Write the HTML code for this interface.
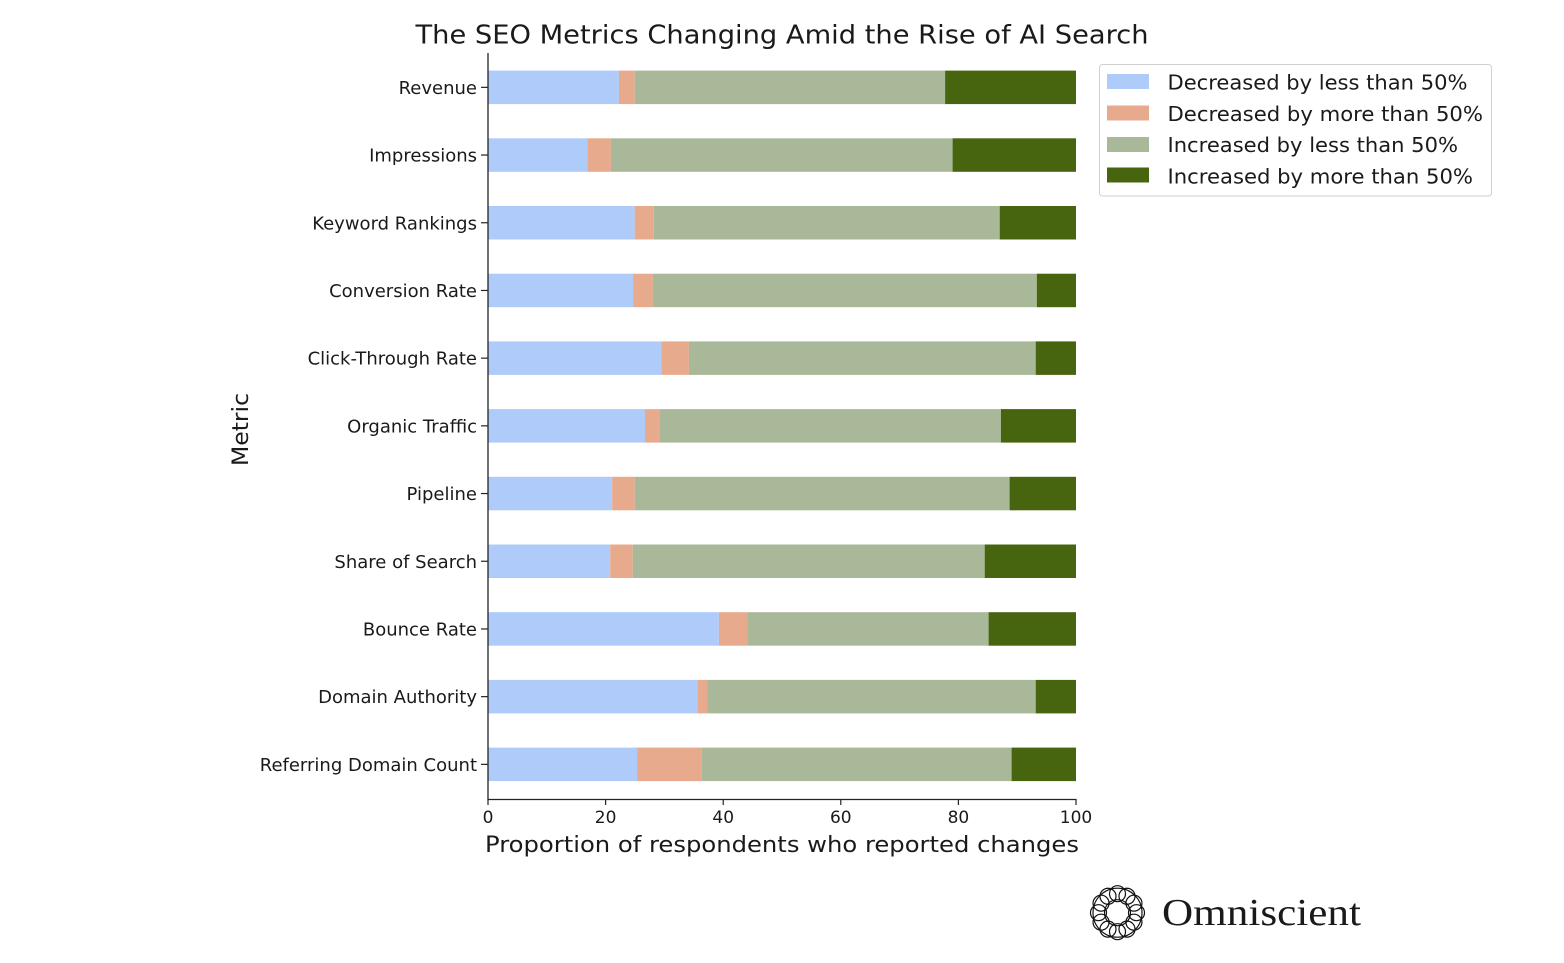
<!DOCTYPE html>
<html>
<head>
<meta charset="utf-8">
<style>
  html, body { margin: 0; padding: 0; background: #ffffff; }
  svg { display: block; }
  text { font-family: "DejaVu Sans", "Liberation Sans", sans-serif; fill: #1a1a1a; }
</style>
</head>
<body>
<svg width="1564" height="963" viewBox="0 0 1564 963" xmlns="http://www.w3.org/2000/svg">
  <rect x="0" y="0" width="1564" height="963" fill="#ffffff"/>

  <!-- Title -->
  <text x="782" y="43.5" font-size="25.5" text-anchor="middle" textLength="733" lengthAdjust="spacingAndGlyphs">The SEO Metrics Changing Amid the Rise of AI Search</text>

  <!-- Bars -->
  <g id="bars">
    <!-- Revenue -->
    <g transform="translate(0,87.35)">
      <rect x="488" y="-16.75" width="130.9" height="33.5" fill="#aecbfa"/>
      <rect x="618.9" y="-16.75" width="15.8" height="33.5" fill="#e8aa8c"/>
      <rect x="634.7" y="-16.75" width="310.4" height="33.5" fill="#a9b898"/>
      <rect x="945.1" y="-16.75" width="130.9" height="33.5" fill="#47640f"/>
      <line x1="481" y1="0" x2="488" y2="0" stroke="#222" stroke-width="1.2"/>
      <text x="477" y="6.5" font-size="18" text-anchor="end">Revenue</text>
    </g>
    <!-- Impressions -->
    <g transform="translate(0,155.05)">
      <rect x="488" y="-16.75" width="99.3" height="33.5" fill="#aecbfa"/>
      <rect x="587.3" y="-16.75" width="23.6" height="33.5" fill="#e8aa8c"/>
      <rect x="610.9" y="-16.75" width="341.7" height="33.5" fill="#a9b898"/>
      <rect x="952.6" y="-16.75" width="123.4" height="33.5" fill="#47640f"/>
      <line x1="481" y1="0" x2="488" y2="0" stroke="#222" stroke-width="1.2"/>
      <text x="477" y="6.5" font-size="18" text-anchor="end">Impressions</text>
    </g>
    <!-- Keyword Rankings -->
    <g transform="translate(0,222.75)">
      <rect x="488" y="-16.75" width="146.7" height="33.5" fill="#aecbfa"/>
      <rect x="634.7" y="-16.75" width="19" height="33.5" fill="#e8aa8c"/>
      <rect x="653.7" y="-16.75" width="346" height="33.5" fill="#a9b898"/>
      <rect x="999.7" y="-16.75" width="76.3" height="33.5" fill="#47640f"/>
      <line x1="481" y1="0" x2="488" y2="0" stroke="#222" stroke-width="1.2"/>
      <text x="477" y="6.5" font-size="18" text-anchor="end">Keyword Rankings</text>
    </g>
    <!-- Conversion Rate -->
    <g transform="translate(0,290.45)">
      <rect x="488" y="-16.75" width="145.1" height="33.5" fill="#aecbfa"/>
      <rect x="633.1" y="-16.75" width="19.8" height="33.5" fill="#e8aa8c"/>
      <rect x="652.9" y="-16.75" width="383.9" height="33.5" fill="#a9b898"/>
      <rect x="1036.8" y="-16.75" width="39.2" height="33.5" fill="#47640f"/>
      <line x1="481" y1="0" x2="488" y2="0" stroke="#222" stroke-width="1.2"/>
      <text x="477" y="6.5" font-size="18" text-anchor="end">Conversion Rate</text>
    </g>
    <!-- Click-Through Rate -->
    <g transform="translate(0,358.15)">
      <rect x="488" y="-16.75" width="173.2" height="33.5" fill="#aecbfa"/>
      <rect x="661.2" y="-16.75" width="27.7" height="33.5" fill="#e8aa8c"/>
      <rect x="688.9" y="-16.75" width="346.8" height="33.5" fill="#a9b898"/>
      <rect x="1035.7" y="-16.75" width="40.3" height="33.5" fill="#47640f"/>
      <line x1="481" y1="0" x2="488" y2="0" stroke="#222" stroke-width="1.2"/>
      <text x="477" y="6.5" font-size="18" text-anchor="end">Click-Through Rate</text>
    </g>
    <!-- Organic Traffic -->
    <g transform="translate(0,425.85)">
      <rect x="488" y="-16.75" width="157" height="33.5" fill="#aecbfa"/>
      <rect x="645" y="-16.75" width="14.2" height="33.5" fill="#e8aa8c"/>
      <rect x="659.2" y="-16.75" width="341.7" height="33.5" fill="#a9b898"/>
      <rect x="1000.9" y="-16.75" width="75.1" height="33.5" fill="#47640f"/>
      <line x1="481" y1="0" x2="488" y2="0" stroke="#222" stroke-width="1.2"/>
      <text x="477" y="6.5" font-size="18" text-anchor="end">Organic Traffic</text>
    </g>
    <!-- Pipeline -->
    <g transform="translate(0,493.55)">
      <rect x="488" y="-16.75" width="124.2" height="33.5" fill="#aecbfa"/>
      <rect x="612.2" y="-16.75" width="22.5" height="33.5" fill="#e8aa8c"/>
      <rect x="634.7" y="-16.75" width="374.9" height="33.5" fill="#a9b898"/>
      <rect x="1009.6" y="-16.75" width="66.4" height="33.5" fill="#47640f"/>
      <line x1="481" y1="0" x2="488" y2="0" stroke="#222" stroke-width="1.2"/>
      <text x="477" y="6.5" font-size="18" text-anchor="end">Pipeline</text>
    </g>
    <!-- Share of Search -->
    <g transform="translate(0,561.25)">
      <rect x="488" y="-16.75" width="122.2" height="33.5" fill="#aecbfa"/>
      <rect x="610.2" y="-16.75" width="22.5" height="33.5" fill="#e8aa8c"/>
      <rect x="632.7" y="-16.75" width="352" height="33.5" fill="#a9b898"/>
      <rect x="984.7" y="-16.75" width="91.3" height="33.5" fill="#47640f"/>
      <line x1="481" y1="0" x2="488" y2="0" stroke="#222" stroke-width="1.2"/>
      <text x="477" y="6.5" font-size="18" text-anchor="end">Share of Search</text>
    </g>
    <!-- Bounce Rate -->
    <g transform="translate(0,628.95)">
      <rect x="488" y="-16.75" width="230.9" height="33.5" fill="#aecbfa"/>
      <rect x="718.9" y="-16.75" width="28.5" height="33.5" fill="#e8aa8c"/>
      <rect x="747.4" y="-16.75" width="241.2" height="33.5" fill="#a9b898"/>
      <rect x="988.6" y="-16.75" width="87.4" height="33.5" fill="#47640f"/>
      <line x1="481" y1="0" x2="488" y2="0" stroke="#222" stroke-width="1.2"/>
      <text x="477" y="6.5" font-size="18" text-anchor="end">Bounce Rate</text>
    </g>
    <!-- Domain Authority -->
    <g transform="translate(0,696.65)">
      <rect x="488" y="-16.75" width="209.6" height="33.5" fill="#aecbfa"/>
      <rect x="697.6" y="-16.75" width="9.5" height="33.5" fill="#e8aa8c"/>
      <rect x="707.1" y="-16.75" width="328.6" height="33.5" fill="#a9b898"/>
      <rect x="1035.7" y="-16.75" width="40.3" height="33.5" fill="#47640f"/>
      <line x1="481" y1="0" x2="488" y2="0" stroke="#222" stroke-width="1.2"/>
      <text x="477" y="6.5" font-size="18" text-anchor="end">Domain Authority</text>
    </g>
    <!-- Referring Domain Count -->
    <g transform="translate(0,764.35)">
      <rect x="488" y="-16.75" width="149.1" height="33.5" fill="#aecbfa"/>
      <rect x="637.1" y="-16.75" width="64.8" height="33.5" fill="#e8aa8c"/>
      <rect x="701.9" y="-16.75" width="309.7" height="33.5" fill="#a9b898"/>
      <rect x="1011.6" y="-16.75" width="64.4" height="33.5" fill="#47640f"/>
      <line x1="481" y1="0" x2="488" y2="0" stroke="#222" stroke-width="1.2"/>
      <text x="477" y="6.5" font-size="18" text-anchor="end">Referring Domain Count</text>
    </g>
  </g>

  <!-- Spines -->
  <line x1="488" y1="53" x2="488" y2="799.5" stroke="#222" stroke-width="1.3"/>
  <line x1="487.4" y1="799.5" x2="1076.6" y2="799.5" stroke="#222" stroke-width="1.3"/>

  <!-- X ticks -->
  <g stroke="#222" stroke-width="1.2">
    <line x1="488" y1="799.5" x2="488" y2="805"/>
    <line x1="605.6" y1="799.5" x2="605.6" y2="805"/>
    <line x1="723.2" y1="799.5" x2="723.2" y2="805"/>
    <line x1="840.8" y1="799.5" x2="840.8" y2="805"/>
    <line x1="958.4" y1="799.5" x2="958.4" y2="805"/>
    <line x1="1076" y1="799.5" x2="1076" y2="805"/>
  </g>
  <g font-size="17" text-anchor="middle">
    <text x="488" y="823">0</text>
    <text x="605.6" y="823">20</text>
    <text x="723.2" y="823">40</text>
    <text x="840.8" y="823">60</text>
    <text x="958.4" y="823">80</text>
    <text x="1076" y="823">100</text>
  </g>

  <!-- Axis labels -->
  <text x="782" y="852" font-size="22" text-anchor="middle" textLength="594" lengthAdjust="spacingAndGlyphs">Proportion of respondents who reported changes</text>
  <text transform="translate(248,429.5) rotate(-90)" x="0" y="0" font-size="22" text-anchor="middle" textLength="73" lengthAdjust="spacingAndGlyphs">Metric</text>

  <!-- Legend -->
  <rect x="1099.5" y="64.5" width="392" height="131.5" rx="3" ry="3" fill="#ffffff" stroke="#d0d0d0" stroke-width="1"/>
  <rect x="1107" y="74" width="42" height="15" fill="#aecbfa"/>
  <rect x="1107" y="105.5" width="42" height="15" fill="#e8aa8c"/>
  <rect x="1107" y="137" width="42" height="15" fill="#a9b898"/>
  <rect x="1107" y="167.5" width="42" height="15" fill="#47640f"/>
  <g font-size="20">
    <text x="1167.5" y="89.3" textLength="300" lengthAdjust="spacingAndGlyphs">Decreased by less than 50%</text>
    <text x="1167.5" y="120.8" textLength="315.5" lengthAdjust="spacingAndGlyphs">Decreased by more than 50%</text>
    <text x="1167.5" y="152" textLength="290.5" lengthAdjust="spacingAndGlyphs">Increased by less than 50%</text>
    <text x="1167.5" y="183.3" textLength="305.5" lengthAdjust="spacingAndGlyphs">Increased by more than 50%</text>
  </g>

  <!-- Logo -->
  <g transform="translate(1117.5,912.7)" fill="none" stroke="#111" stroke-width="1.2">
    <circle cx="0" cy="-19" r="8"/>
    <circle cx="9.5" cy="-16.45" r="8"/>
    <circle cx="16.45" cy="-9.5" r="8"/>
    <circle cx="19" cy="0" r="8"/>
    <circle cx="16.45" cy="9.5" r="8"/>
    <circle cx="9.5" cy="16.45" r="8"/>
    <circle cx="0" cy="19" r="8"/>
    <circle cx="-9.5" cy="16.45" r="8"/>
    <circle cx="-16.45" cy="9.5" r="8"/>
    <circle cx="-19" cy="0" r="8"/>
    <circle cx="-16.45" cy="-9.5" r="8"/>
    <circle cx="-9.5" cy="-16.45" r="8"/>
    <circle cx="0" cy="0" r="13"/>
    <circle cx="0" cy="0" r="24.5"/>
  </g>
  <text x="1162" y="925" font-family="Liberation Serif, serif" font-size="38" style="font-family:'Liberation Serif', serif" fill="#111" textLength="199" lengthAdjust="spacingAndGlyphs">Omniscient</text>
</svg>
</body>
</html>
